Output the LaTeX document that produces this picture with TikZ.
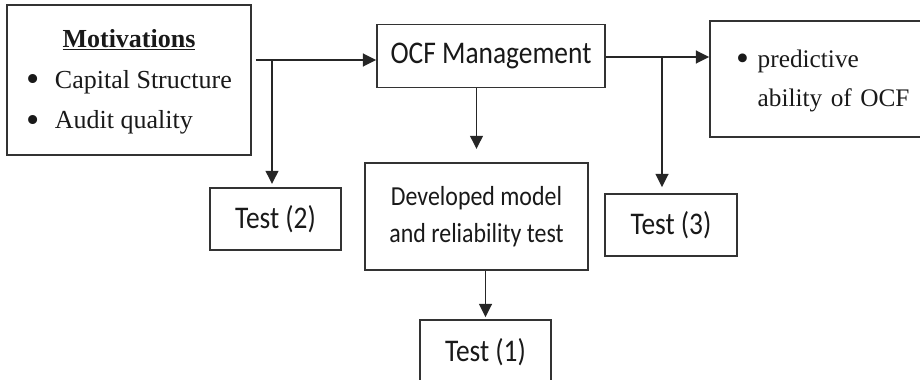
\documentclass[tikz,border=0pt]{standalone}
\usepackage{fontspec}
\usepackage{graphicx}
\setmainfont{Liberation Serif}
\newfontfamily\calibri{Carlito}
\usetikzlibrary{arrows.meta}

% the sans labels of the figure are drawn a bit taller than wide
\newcommand{\tallbox}[1]{\scalebox{1}[1.15]{#1}}
\newcommand{\bigdot}{\raisebox{-0.12em}{\scalebox{1.45}{\textbullet}}}

\begin{document}
\begin{tikzpicture}[
    >={Triangle[length=0.33cm,width=0.32cm]},
    line width=1.3pt, draw=black!85,
    box/.style={draw=black!80, line width=1.2pt, text=black!90, inner sep=0pt},
    sansbox/.style={box, font=\calibri\fontsize{19.5}{22}\selectfont},
    serifbox/.style={box, font=\fontsize{18.5}{29}\selectfont}
  ]
  \clip (0,0) rectangle (23,-9.5);

  % Motivations
  \node[serifbox, minimum width=6.1cm, minimum height=3.75cm] (motiv) at (3.225,-2.0)
    {\begin{tabular}{@{}l@{}}
      \multicolumn{1}{c}{\underline{\textbf{Motivations}}}\\
      \bigdot\hspace{0.6em}Capital Structure\\
      \bigdot\hspace{0.6em}Audit quality
    \end{tabular}};

  % Management and outcome
  \node[sansbox, minimum width=5.7cm, minimum height=1.575cm] (ocf) at (12.275,-1.4) {\tallbox{OCF Management}};
  \node[serifbox, font=\fontsize{18}{28}\selectfont, minimum width=5.5cm, minimum height=2.9cm,
        inner xsep=0.65cm, text width=4.2cm, align=left] (pred) at (20.5,-1.975)
    {\raisebox{0.12cm}{\begin{tabular}{@{}l@{\hspace{0.35em}}l@{}}
      \bigdot & predictive\\
              & ability of OCF
    \end{tabular}}};

  % Second row
  \node[sansbox, font=\calibri\fontsize{17}{23}\selectfont,
        minimum width=5.575cm, minimum height=2.675cm] (dev) at (11.9125,-5.4125)
    {\tallbox{\begin{tabular}{@{}c@{}}Developed model\\and reliability test\end{tabular}}};
  \node[sansbox, minimum width=3.275cm, minimum height=1.55cm] (test2) at (6.8875,-5.475) {\tallbox{Test (2)}};
  \node[sansbox, minimum width=3.3cm, minimum height=1.55cm] (test3) at (16.775,-5.625) {\tallbox{Test (3)}};

  % Bottom
  \node[sansbox, minimum width=3.275cm, minimum height=1.6cm] (test1) at (12.1375,-8.8) {\tallbox{Test (1)}};

  % Connectors
  \coordinate (b2) at (6.8,-1.5);
  \draw[->, shorten <=0.1cm] (motiv.east |- b2) -- (b2 -| ocf.west);
  \draw[->, shorten >=0.08cm] (b2) -- (b2 |- test2.north);

  \coordinate (b3) at (16.55,-1.425);
  \draw[->] (ocf.east |- b3) -- (b3 -| pred.west);
  \draw[->, shorten >=0.15cm] (b3) -- (b3 |- test3.north);

  \draw[->, shorten >=0.33cm] (dev.north |- ocf.south) -- (dev.north);
  \draw[->, shorten >=0.05cm] (dev.south -| test1.north) -- (test1.north);
\end{tikzpicture}
\end{document}
